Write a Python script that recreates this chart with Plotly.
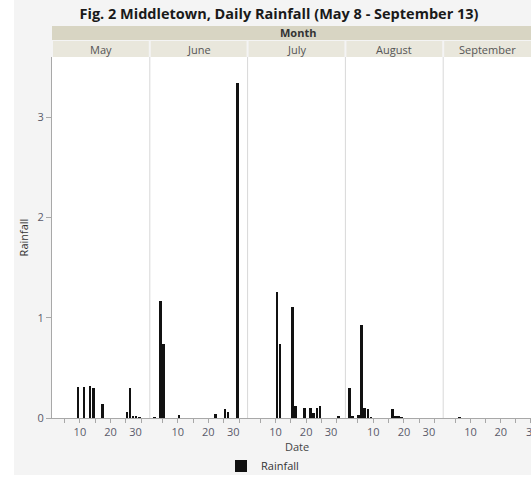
import plotly.graph_objects as go

# ---- data ----
months = ["May", "June", "July", "August", "September"]
may_days = [9, 11, 13, 14, 17, 25, 26, 27, 28, 29]
may_rain = [0.31, 0.31, 0.32, 0.30, 0.14, 0.06, 0.30, 0.02, 0.02, 0.01]
june_days = [2, 4, 5, 10, 22, 25, 26, 29]
june_rain = [0.01, 1.17, 0.74, 0.03, 0.04, 0.09, 0.06, 3.34]
july_days = [10, 11, 15, 16, 19, 21, 22, 23, 24, 30]
july_rain = [1.26, 0.74, 1.11, 0.12, 0.10, 0.10, 0.05, 0.10, 0.12, 0.02]
aug_days = [2, 3, 5, 6, 7, 8, 9, 16, 17, 18, 19]
aug_rain = [0.30, 0.02, 0.03, 0.93, 0.10, 0.09, 0.01, 0.09, 0.02, 0.02, 0.01]
sep_days = [6]
sep_rain = [0.01]
y_ticks = [0, 1, 2, 3]
x_tickvals = [5, 10, 15, 20, 25, 30]
x_ticktext = ["", "10", "", "20", "", "30\u00a0\u00a0\u00a0\u00a0"]
x_ticktext_last = ["", "10", "", "20", "", "\u00a030"]

series = [(may_days, may_rain), (june_days, june_rain), (july_days, july_rain),
          (aug_days, aug_rain), (sep_days, sep_rain)]

# ---- layout geometry ----
WID, HEI = 531, 477
L, R, T, B = 52, 0, 57, 59
PW = WID - L - R
PH = HEI - T - B
BOT = HEI - B
PANEL = 97.8
DAYPX = PANEL / 31.9


def fx(px):
    return (px - L) / PW


def fy(py):
    return (BOT - py) / PH


FONT = "Open Sans"
fig = go.Figure()

axis_names = ["x", "x2", "x3", "x4", "x5"]
for k, ((days, vals), ax) in enumerate(zip(series, axis_names)):
    fig.add_trace(go.Bar(
        x=days, y=vals, xaxis=ax, yaxis="y", name="Rainfall",
        marker=dict(color="#111111", line=dict(width=0)),
        width=0.85, offset=-0.075,
        showlegend=(k == 0), legendgroup="r",
    ))

layout_axes = {}
for k in range(5):
    x0 = k * PANEL / PW
    x1 = min((k + 1) * PANEL / PW, 1.0)
    last = k == 4
    rng_end = 30.05 if last else 0.9 + (x1 - x0) * PW / DAYPX
    key = "xaxis" if k == 0 else f"xaxis{k+1}"
    layout_axes[key] = dict(
        domain=[x0, x1], anchor="y", range=[0.9, rng_end],
        tickmode="array", tickvals=x_tickvals,
        ticktext=x_ticktext_last if last else x_ticktext,
        ticklabeloverflow="allow",
        ticks="outside", ticklen=4, tickcolor="#a8a8a8",
        showline=True, linecolor="#a8a8a8", linewidth=1,
        showgrid=False, zeroline=False, automargin=False,
        tickfont=dict(family=FONT, size=11, color="#5a5a6a"),
        fixedrange=True,
    )

fig.update_layout(
    width=WID, height=HEI,
    margin=dict(l=L, r=R, t=T, b=B, autoexpand=False),
    paper_bgcolor="#f4f4f4", plot_bgcolor="white",
    bargap=0,
    title=dict(text="<b>Fig. 2 Middletown, Daily Rainfall (May 8 - September 13)</b>",
               x=279 / WID, xanchor="center", y=1 - 14 / HEI, yanchor="middle",
               font=dict(family=FONT, size=14.5, color="#1a1a1a")),
    yaxis=dict(domain=[0, 1], range=[0, PH / 100.3], anchor="x",
               tickvals=y_ticks, ticks="outside", ticklen=5, tickcolor="#a8a8a8",
               showline=True, linecolor="#a8a8a8", showgrid=False, zeroline=False,
               automargin=False, fixedrange=True,
               tickfont=dict(family=FONT, size=11, color="#5a5a6a"),
               title=dict(text="Rainfall", standoff=6,
                          font=dict(family=FONT, size=11, color="#333333"))),
    legend=dict(orientation="h", x=fx(221), xanchor="left", y=fy(466), yanchor="middle",
                font=dict(family=FONT, size=11, color="#333333"),
                bgcolor="rgba(0,0,0,0)"),
    showlegend=True,
    **layout_axes,
)

shapes = []
# white strips outside the graph frame
shapes.append(dict(type="rect", xref="paper", yref="paper", x0=fx(0), x1=fx(14),
                   y0=fy(HEI), y1=fy(0), fillcolor="white", line=dict(width=0), layer="below"))
shapes.append(dict(type="rect", xref="paper", yref="paper", x0=fx(0), x1=fx(WID),
                   y0=fy(HEI), y1=fy(475), fillcolor="white", line=dict(width=0), layer="below"))
# header: "Month" row
shapes.append(dict(type="rect", xref="paper", yref="paper", x0=0, x1=1,
                   y0=fy(40), y1=fy(26), fillcolor="#d8d5c3", line=dict(width=0)))
# month name cells
for k in range(5):
    a = L + k * PANEL
    b = min(L + (k + 1) * PANEL, WID)
    shapes.append(dict(type="rect", xref="paper", yref="paper",
                       x0=fx(a + 1), x1=fx(b - 1) if k < 4 else 1,
                       y0=fy(57), y1=fy(41), fillcolor="#e9e7dc", line=dict(width=0)))
# panel separators
for k in range(1, 5):
    xp = fx(L + k * PANEL)
    shapes.append(dict(type="line", xref="paper", yref="paper", x0=xp, x1=xp,
                       y0=0, y1=1, line=dict(color="#d8d8d8", width=1)))
fig.update_layout(shapes=shapes)

annotations = [
    dict(text="<b>Month</b>", xref="paper", yref="paper", x=fx((L + WID) / 2 + 6), y=fy(33),
         showarrow=False, font=dict(family=FONT, size=11, color="#333333"),
         xanchor="center", yanchor="middle"),
    dict(text="Date", xref="paper", yref="paper", x=fx(297), y=fy(447),
         showarrow=False, font=dict(family=FONT, size=11, color="#444444"),
         xanchor="center", yanchor="middle"),
]
for k, m in enumerate(months):
    a = L + k * PANEL
    b = min(L + (k + 1) * PANEL, WID)
    annotations.append(dict(text=m, xref="paper", yref="paper", x=fx((a + b) / 2), y=fy(49),
                            showarrow=False, font=dict(family=FONT, size=11, color="#555555"),
                            xanchor="center", yanchor="middle"))
fig.update_layout(annotations=annotations)

fig.write_html("out.html", config={"displayModeBar": False},
               post_script="document.body.style.margin='0px';")
